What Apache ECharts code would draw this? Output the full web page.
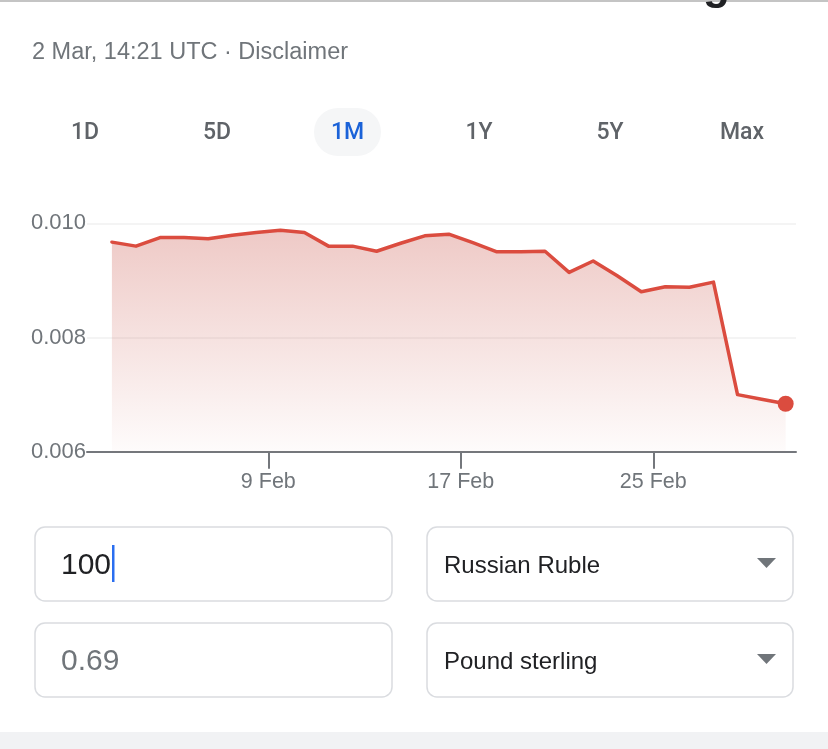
<!DOCTYPE html>
<html>
<head>
<meta charset="utf-8">
<script src="https://cdn.jsdelivr.net/npm/echarts@6/dist/echarts.min.js"></script>
<style>
html,body{margin:0;padding:0;background:#fff;}
#chart{width:828px;height:749px;}
</style>
</head>
<body>
<div id="chart"></div>
<script>
// ---- data ----
const dates = ['2022-02-02','2022-02-03','2022-02-04','2022-02-05','2022-02-06','2022-02-07','2022-02-08',
  '2022-02-09','2022-02-10','2022-02-11','2022-02-12','2022-02-13','2022-02-14','2022-02-15','2022-02-16',
  '2022-02-17','2022-02-18','2022-02-19','2022-02-20','2022-02-21','2022-02-22','2022-02-23','2022-02-24',
  '2022-02-25','2022-02-26','2022-02-27','2022-02-28','2022-03-01','2022-03-02'];
const rates = [0.00967,0.00960,0.00975,0.00975,0.00973,0.00979,0.00984,0.00988,0.00984,0.00960,
  0.00960,0.00951,0.00965,0.00978,0.00981,0.00966,0.00950,0.00950,0.00951,0.00914,
  0.00934,0.00908,0.00880,0.00889,0.00888,0.00897,0.00700,0.00692,0.00684];
const xTickDates = ['2022-02-09','2022-02-17','2022-02-25'];
const yTicks = [0.006, 0.008, 0.010];
const tabs = ['1D','5D','1M','1Y','5Y','Max'];
const activeTab = '1M';
const headerText = '2 Mar, 14:21 UTC \u00b7 Disclaimer';
const amountText = '100';
const resultText = '0.69';
const fromCurrency = 'Russian Ruble';
const toCurrency = 'Pound sterling';

// ---- helpers ----
const BASE = Date.UTC(2022, 1, 0); // day 0 = 31 Jan
const MONTHS = ['Jan','Feb','Mar','Apr','May','Jun','Jul','Aug','Sep','Oct','Nov','Dec'];
function dayNum(s, hourFrac) {
  const p = s.split('-').map(Number);
  return (Date.UTC(p[0], p[1]-1, p[2]) - BASE) / 86400000 + (hourFrac || 0);
}
function dayLabel(v) {
  const d = new Date(BASE + Math.round(v) * 86400000);
  return d.getUTCDate() + ' ' + MONTHS[d.getUTCMonth()];
}

const seriesData = dates.map((d, i) => {
  const item = { value: [dayNum(d, 0.5), rates[i]] };
  if (i === dates.length - 1) {
    item.symbol = 'circle';
    item.symbolSize = 16;
    item.itemStyle = { color: '#db4c3f' };
  }
  return item;
});

const FONT = '"Liberation Sans", Arial, Helvetica, sans-serif';
const TABFONT = 'Roboto, "Liberation Sans", Arial, sans-serif';
const GREY = '#70757a';

const tabX = [85, 217, 347.5, 479, 610, 742];
const graphics = [
  { type: 'rect', shape: { x: 0, y: 0, width: 828, height: 2 }, style: { fill: '#c4c4c4' } },
  { type: 'text', x: 703, y: 9, style: { text: 'g', font: 'bold 44px ' + FONT, fill: '#202124', textVerticalAlign: 'bottom' } },
  { type: 'text', x: 32, y: 53, style: { text: headerText, font: '23.5px ' + FONT, fill: GREY, textVerticalAlign: 'middle' } },
  { type: 'rect', shape: { x: 314, y: 108, width: 67, height: 48, r: 24 }, style: { fill: '#f5f6f7' } }
];
tabs.forEach((t, i) => {
  graphics.push({ type: 'text', x: tabX[i], y: 133, style: {
    text: t, font: '500 23px ' + TABFONT, fill: t === activeTab ? '#1a62d8' : '#5f6368',
    textAlign: 'center', textVerticalAlign: 'middle' } });
});
const boxes = [
  { x: 35, y: 527, w: 357, h: 74 }, { x: 427, y: 527, w: 366, h: 74 },
  { x: 35, y: 623, w: 357, h: 74 }, { x: 427, y: 623, w: 366, h: 74 }
];
boxes.forEach(b => {
  graphics.push({ type: 'rect', shape: { x: b.x, y: b.y, width: b.w, height: b.h, r: 10 },
    style: { fill: '#fff', stroke: '#dadce0', lineWidth: 1.5 } });
});
graphics.push(
  { type: 'text', x: 61, y: 566, style: { text: amountText, font: '30px ' + FONT, fill: '#202124', textVerticalAlign: 'middle' } },
  { type: 'rect', shape: { x: 112, y: 545, width: 2.5, height: 37 }, style: { fill: '#2a6ef0' } },
  { type: 'text', x: 444, y: 566, style: { text: fromCurrency, font: '24px ' + FONT, fill: '#202124', textVerticalAlign: 'middle' } },
  { type: 'polygon', shape: { points: [[757, 558], [776, 558], [766.5, 568]] }, style: { fill: GREY } },
  { type: 'text', x: 61, y: 662, style: { text: resultText, font: '30px ' + FONT, fill: GREY, textVerticalAlign: 'middle' } },
  { type: 'text', x: 444, y: 662, style: { text: toCurrency, font: '24px ' + FONT, fill: '#202124', textVerticalAlign: 'middle' } },
  { type: 'polygon', shape: { points: [[757, 654], [776, 654], [766.5, 664]] }, style: { fill: GREY } },
  { type: 'rect', shape: { x: 0, y: 732, width: 828, height: 17 }, style: { fill: '#f1f2f4' } }
);

const chart = echarts.init(document.getElementById('chart'), null, { renderer: 'canvas' });
chart.setOption({
  animation: false,
  backgroundColor: '#fff',
  grid: { left: 87, top: 223.3, width: 709, height: 228.4, containLabel: false, outerBoundsMode: 'none' },
  xAxis: {
    type: 'value',
    min: 1.465, max: 30.93,
    axisLine: { show: true, lineStyle: { color: '#74777c', width: 2 } },
    axisTick: { show: true, length: 17, lineStyle: { color: '#74777c', width: 2 },
      customValues: xTickDates.map(d => dayNum(d)) },
    axisLabel: { color: GREY, fontSize: 21.5, fontFamily: FONT, margin: 19,
      customValues: xTickDates.map(d => dayNum(d)), formatter: v => dayLabel(v) },
    splitLine: { show: false }
  },
  yAxis: {
    type: 'value',
    min: yTicks[0], max: yTicks[yTicks.length - 1], interval: 0.002,
    axisLine: { show: false }, axisTick: { show: false },
    axisLabel: { color: GREY, fontSize: 22, fontFamily: FONT, margin: 1, formatter: v => v.toFixed(3) },
    splitLine: { show: true, lineStyle: { color: '#f1f1f1', width: 1.5 } }
  },
  series: [{
    type: 'line',
    data: seriesData,
    symbol: 'none',
    showSymbol: true,
    lineStyle: { color: '#db4c3f', width: 3.5, cap: 'round', join: 'round' },
    itemStyle: { color: '#db4c3f' },
    areaStyle: {
      color: new echarts.graphic.LinearGradient(0, 0, 0, 1, [
        { offset: 0, color: 'rgba(205,95,85,0.48)' },
        { offset: 1, color: 'rgba(205,95,85,0.03)' }
      ])
    },
    emphasis: { disabled: true },
    silent: true,
    z: 3
  }],
  graphic: graphics
});
</script>
</body>
</html>
